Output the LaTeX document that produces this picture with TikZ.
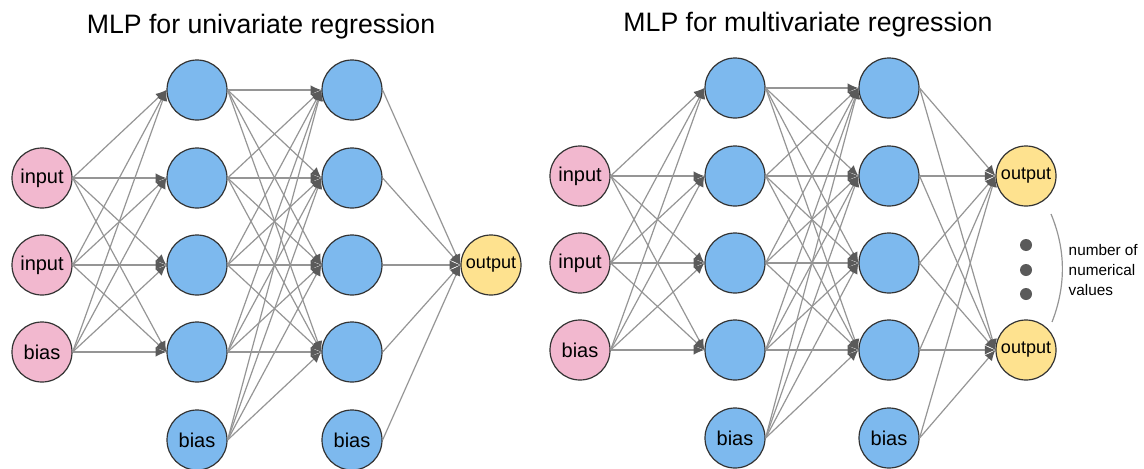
\documentclass[tikz,border=0pt]{standalone}
\usepackage{fontspec}
\setmainfont{Liberation Sans}
\usetikzlibrary{arrows.meta}
\definecolor{inpink}{HTML}{F2B8CF}
\definecolor{hidblue}{HTML}{7DB9EE}
\definecolor{outyellow}{HTML}{FEE28F}
\definecolor{edgegray}{HTML}{959595}
\definecolor{tipgray}{HTML}{5A5A5A}
\definecolor{rimgray}{HTML}{333333}
\tikzset{
  neuron/.style={circle, draw=rimgray, line width=0.9pt, minimum size=45pt, inner sep=0pt, font=\fontsize{15}{15}\selectfont},
  innode/.style={neuron, fill=inpink},
  hidnode/.style={neuron, fill=hidblue},
  outnode/.style={neuron, fill=outyellow, font=\fontsize{13.5}{13.5}\selectfont},
  wire/.style={draw=edgegray, line width=0.9pt, -{Latex[length=8pt,width=7pt,color=tipgray]}},
  title/.style={font=\fontsize{20}{20}\selectfont},
}
\begin{document}
\begin{tikzpicture}[x=0.75pt, y=-0.75pt]
\useasboundingbox (0,0) rectangle (1144,468);

% ---------- univariate network ----------
\node[title] (tl) at (261,27) {MLP for univariate regression};
\node[innode] (a0) at (42,178) {input};
\node[innode] (a1) at (42,265) {input};
\node[innode] (a2) at (42,352) {bias};
\foreach \i/\y in {1/90,2/178,3/265,4/352} {
  \node[hidnode] (b\i) at (197,\y) {};
  \node[hidnode] (c\i) at (352,\y) {};
}
\node[hidnode] (b5) at (197,440) {bias};
\node[hidnode] (c5) at (352,440) {bias};
\node[outnode] (ao) at (491,265) {output};
\foreach \s in {0,1,2} \foreach \t in {1,...,4} \draw[wire] (a\s.east) -- (b\t.west);
\foreach \s in {1,...,5} \foreach \t in {1,...,4} \draw[wire] (b\s.east) -- (c\t.west);
\foreach \s in {1,...,5} \draw[wire] (c\s.east) -- (ao.west);

% ---------- multivariate network ----------
\node[title] (tr) at (808,25) {MLP for multivariate regression};
\node[innode] (d0) at (580,176) {input};
\node[innode] (d1) at (580,263) {input};
\node[innode] (d2) at (580,350) {bias};
\foreach \i/\y in {1/88,2/176,3/263,4/350} {
  \node[hidnode] (e\i) at (735,\y) {};
  \node[hidnode] (f\i) at (889,\y) {};
}
\node[hidnode] (e5) at (735,438) {bias};
\node[hidnode] (f5) at (889,438) {bias};
\node[outnode] (o1) at (1026,176) {output};
\node[outnode] (o2) at (1026,350) {output};
\foreach \s in {0,1,2} \foreach \t in {1,...,4} \draw[wire] (d\s.east) -- (e\t.west);
\foreach \s in {1,...,5} \foreach \t in {1,...,4} \draw[wire] (e\s.east) -- (f\t.west);
\foreach \s in {1,...,5} \foreach \t in {1,2} \draw[wire] (f\s.east) -- (o\t.west);

% ellipsis between the outputs
\foreach \k/\y in {1/245,2/270,3/294}
  \fill[tipgray] (1026,\y) circle (6) coordinate (dot\k);

% bracket and its label
\coordinate (brtop) at (1051,214);
\coordinate (brbot) at (1052,322);
\draw[edgegray, line width=0.9pt] (brtop) .. controls (1066,250) and (1066,286) .. (brbot);
\node[anchor=west, align=left, font=\fontsize{11.5}{15}\selectfont] (lbl) at (1064,270)
  {number of\\numerical\\values};
\end{tikzpicture}
\end{document}
